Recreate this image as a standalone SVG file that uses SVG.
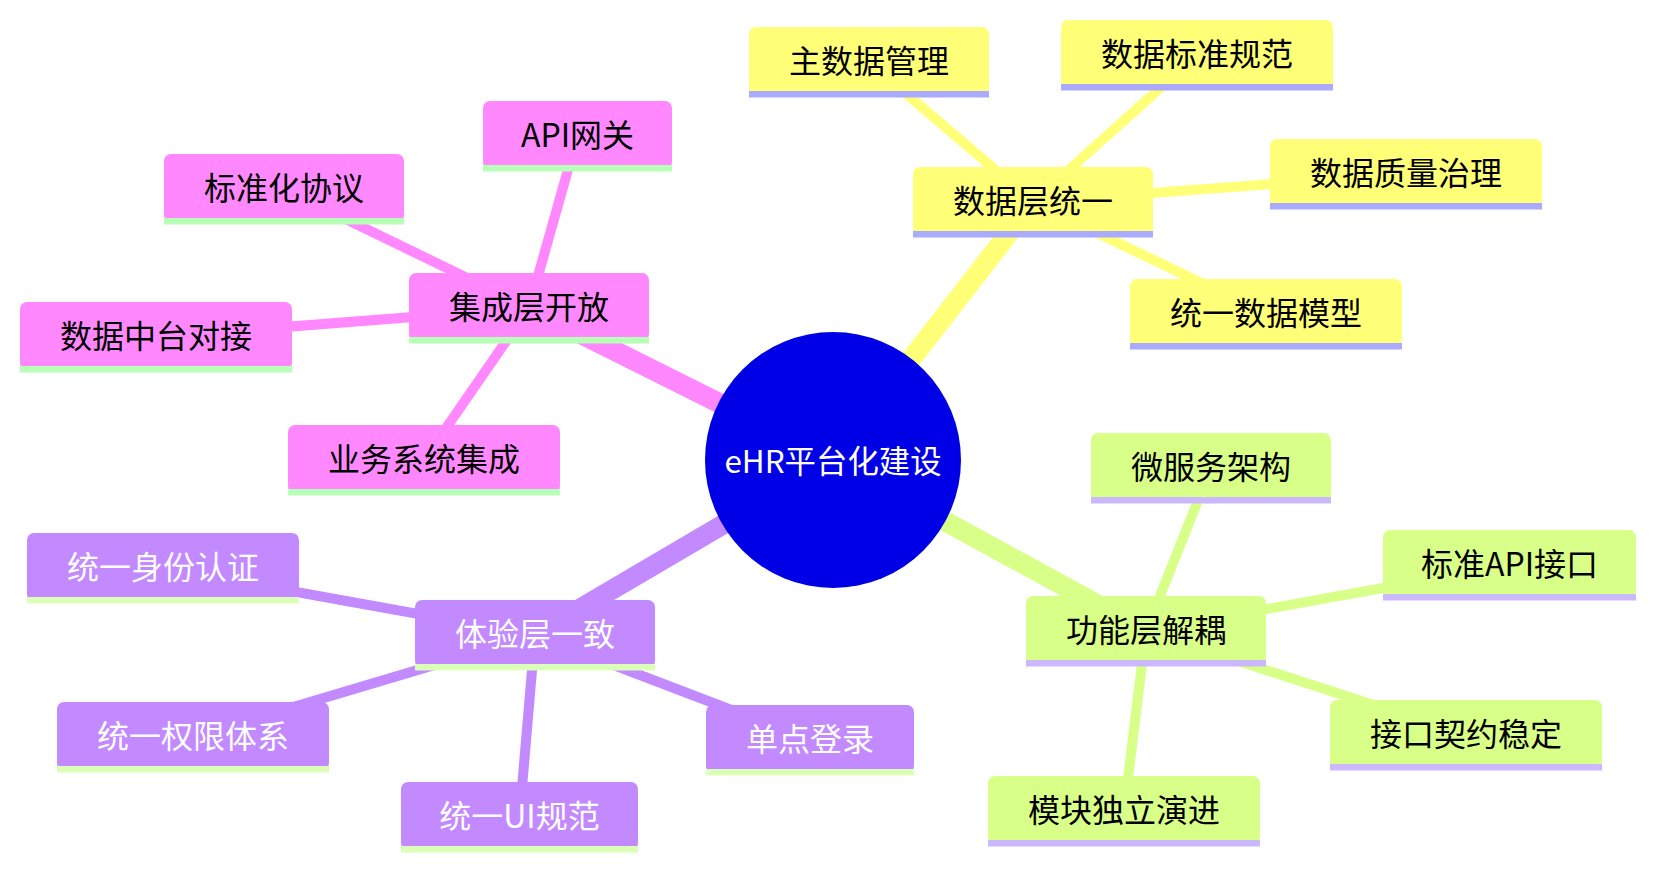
<svg xmlns="http://www.w3.org/2000/svg" width="1655" height="870" viewBox="0 0 1655 870">
<style>
text{font-family:"Noto Sans CJK SC","Noto Sans",sans-serif;font-size:32px;text-anchor:middle;}
.t-dark{fill:#000;}
.t-light{fill:#fff;}
.y .bg{fill:#ffff78;} .y .ln{fill:#aaaaff;}
.p .bg{fill:#ff88ff;} .p .ln{fill:#b8ffb8;}
.v .bg{fill:#c389ff;} .v .ln{fill:#dcffb8;}
.g .bg{fill:#d8ff88;} .g .ln{fill:#ccb8ff;}
.e-y{stroke:#ffff78;} .e-p{stroke:#ff88ff;} .e-v{stroke:#c389ff;} .e-g{stroke:#d8ff88;}
.d0{stroke-width:20;stroke-linecap:butt;} .d1{stroke-width:10;stroke-linecap:butt;}
</style>
<rect width="1655" height="870" fill="#fff"/>
<g id="connectors">
<line class="e-y d0" x1="833" y1="460" x2="1033" y2="202"/>
<line class="e-y d1" x1="1033" y1="202" x2="869" y2="62"/>
<line class="e-y d1" x1="1033" y1="202" x2="1197" y2="55"/>
<line class="e-y d1" x1="1033" y1="202" x2="1406" y2="174"/>
<line class="e-y d1" x1="1033" y1="202" x2="1266" y2="314"/>
<line class="e-p d0" x1="833" y1="460" x2="529" y2="308"/>
<line class="e-p d1" x1="529" y1="308" x2="577.5" y2="136"/>
<line class="e-p d1" x1="529" y1="308" x2="284" y2="189"/>
<line class="e-p d1" x1="529" y1="308" x2="156" y2="337"/>
<line class="e-p d1" x1="529" y1="308" x2="424" y2="460"/>
<line class="e-v d0" x1="833" y1="460" x2="535" y2="635"/>
<line class="e-v d1" x1="535" y1="635" x2="163" y2="568"/>
<line class="e-v d1" x1="535" y1="635" x2="193" y2="737"/>
<line class="e-v d1" x1="535" y1="635" x2="519.5" y2="817"/>
<line class="e-v d1" x1="535" y1="635" x2="810" y2="740"/>
<line class="e-g d0" x1="833" y1="460" x2="1146" y2="631"/>
<line class="e-g d1" x1="1146" y1="631" x2="1211" y2="468"/>
<line class="e-g d1" x1="1146" y1="631" x2="1509.5" y2="565"/>
<line class="e-g d1" x1="1146" y1="631" x2="1466" y2="735"/>
<line class="e-g d1" x1="1146" y1="631" x2="1124" y2="811"/>
</g>
<g id="root"><circle cx="833" cy="460" r="128" fill="#0000e6"/><text class="t-light" x="833" y="473" style="font-size:31.4px">eHR平台化建设</text></g>

<g id="n-data" class="y"><rect class="bg" x="913" y="167" width="240" height="68" rx="7"/><rect class="ln" x="913" y="231" width="240" height="6.5"/><text class="t-dark" x="1033" y="213">数据层统一</text></g>
<g id="n-mdm" class="y"><rect class="bg" x="749" y="27" width="240" height="68" rx="7"/><rect class="ln" x="749" y="91" width="240" height="6.5"/><text class="t-dark" x="869" y="73">主数据管理</text></g>
<g id="n-std" class="y"><rect class="bg" x="1061" y="20" width="272" height="68" rx="7"/><rect class="ln" x="1061" y="84" width="272" height="6.5"/><text class="t-dark" x="1197" y="66">数据标准规范</text></g>
<g id="n-quality" class="y"><rect class="bg" x="1270" y="139" width="272" height="68" rx="7"/><rect class="ln" x="1270" y="203" width="272" height="6.5"/><text class="t-dark" x="1406" y="185">数据质量治理</text></g>
<g id="n-model" class="y"><rect class="bg" x="1130" y="279" width="272" height="68" rx="7"/><rect class="ln" x="1130" y="343" width="272" height="6.5"/><text class="t-dark" x="1266" y="325">统一数据模型</text></g>

<g id="n-integ" class="p"><rect class="bg" x="409" y="273" width="240" height="68" rx="7"/><rect class="ln" x="409" y="337" width="240" height="6.5"/><text class="t-dark" x="529" y="319">集成层开放</text></g>
<g id="n-api" class="p"><rect class="bg" x="483" y="101" width="189" height="68" rx="7"/><rect class="ln" x="483" y="165" width="189" height="6.5"/><text class="t-dark" x="577.5" y="147">API网关</text></g>
<g id="n-proto" class="p"><rect class="bg" x="164" y="154" width="240" height="68" rx="7"/><rect class="ln" x="164" y="218" width="240" height="6.5"/><text class="t-dark" x="284" y="200">标准化协议</text></g>
<g id="n-dmid" class="p"><rect class="bg" x="20" y="302" width="272" height="68" rx="7"/><rect class="ln" x="20" y="366" width="272" height="6.5"/><text class="t-dark" x="156" y="348">数据中台对接</text></g>
<g id="n-biz" class="p"><rect class="bg" x="288" y="425" width="272" height="68" rx="7"/><rect class="ln" x="288" y="489" width="272" height="6.5"/><text class="t-dark" x="424" y="471">业务系统集成</text></g>

<g id="n-exp" class="v"><rect class="bg" x="415" y="600" width="240" height="68" rx="7"/><rect class="ln" x="415" y="664" width="240" height="6.5"/><text class="t-light" x="535" y="646">体验层一致</text></g>
<g id="n-auth" class="v"><rect class="bg" x="27" y="533" width="272" height="68" rx="7"/><rect class="ln" x="27" y="597" width="272" height="6.5"/><text class="t-light" x="163" y="579">统一身份认证</text></g>
<g id="n-perm" class="v"><rect class="bg" x="57" y="702" width="272" height="68" rx="7"/><rect class="ln" x="57" y="766" width="272" height="6.5"/><text class="t-light" x="193" y="748">统一权限体系</text></g>
<g id="n-ui" class="v"><rect class="bg" x="401" y="782" width="237" height="68" rx="7"/><rect class="ln" x="401" y="846" width="237" height="6.5"/><text class="t-light" x="519.5" y="828">统一UI规范</text></g>
<g id="n-sso" class="v"><rect class="bg" x="706" y="705" width="208" height="68" rx="7"/><rect class="ln" x="706" y="769" width="208" height="6.5"/><text class="t-light" x="810" y="751">单点登录</text></g>

<g id="n-func" class="g"><rect class="bg" x="1026" y="596" width="240" height="68" rx="7"/><rect class="ln" x="1026" y="660" width="240" height="6.5"/><text class="t-dark" x="1146" y="642">功能层解耦</text></g>
<g id="n-micro" class="g"><rect class="bg" x="1091" y="433" width="240" height="68" rx="7"/><rect class="ln" x="1091" y="497" width="240" height="6.5"/><text class="t-dark" x="1211" y="479">微服务架构</text></g>
<g id="n-stdapi" class="g"><rect class="bg" x="1383" y="530" width="253" height="68" rx="7"/><rect class="ln" x="1383" y="594" width="253" height="6.5"/><text class="t-dark" x="1509.5" y="576">标准API接口</text></g>
<g id="n-contract" class="g"><rect class="bg" x="1330" y="700" width="272" height="68" rx="7"/><rect class="ln" x="1330" y="764" width="272" height="6.5"/><text class="t-dark" x="1466" y="746">接口契约稳定</text></g>
<g id="n-module" class="g"><rect class="bg" x="988" y="776" width="272" height="68" rx="7"/><rect class="ln" x="988" y="840" width="272" height="6.5"/><text class="t-dark" x="1124" y="822">模块独立演进</text></g>
</svg>
